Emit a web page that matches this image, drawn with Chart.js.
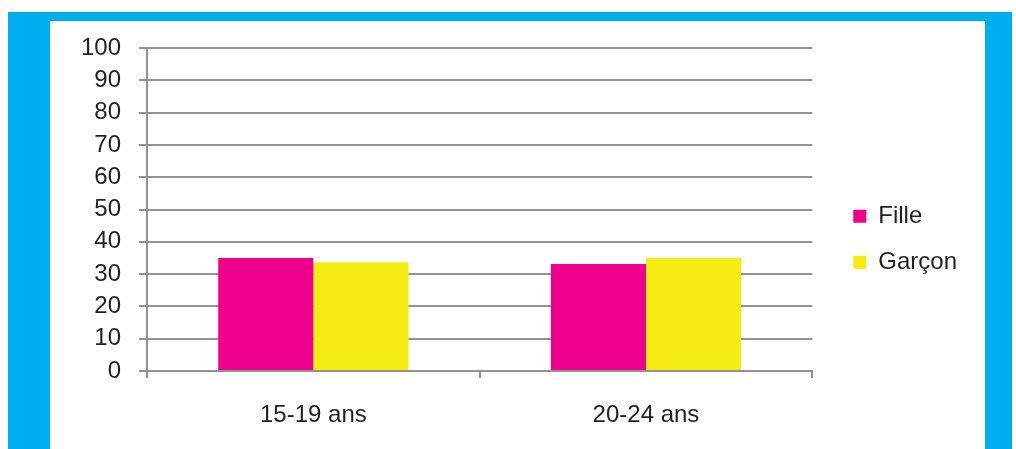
<!DOCTYPE html>
<html>
<head>
<meta charset="utf-8">
<script src="https://cdn.jsdelivr.net/npm/chart.js@4.4.1/dist/chart.umd.min.js"></script>
<style>
  html, body { margin: 0; padding: 0; background: #fff; }
  #wrap { position: relative; width: 1016px; height: 449px; }
</style>
</head>
<body>
<div id="wrap"><canvas id="ageChart" width="1016" height="449"></canvas></div>
<script>
// age groups and share per sex (%)
const categories = ['15-19 ans', '20-24 ans'];
const fille = [35, 33.1];
const garcon = [33.7, 35];
const yTicks = [0, 10, 20, 30, 40, 50, 60, 70, 80, 90, 100];

const FONT = '"Liberation Sans", Arial, sans-serif';
const GRID = '#929292';

// cyan frame around the figure
const framePlugin = {
    id: 'frame',
    beforeDraw(chart) {
        const c = chart.ctx;
        c.save();
        c.fillStyle = '#fff';
        c.fillRect(0, 0, chart.width, chart.height);
        c.fillStyle = '#00AEEF';
        c.fillRect(8, 12, 1004, 9);
        c.fillRect(8, 12, 42, chart.height - 12);
        c.fillRect(985, 12, 27, chart.height - 12);
        c.restore();
    }
};

Chart.defaults.font.family = FONT;
Chart.defaults.color = '#231F20';

new Chart(document.getElementById('ageChart'), {
    type: 'bar',
    data: {
        labels: categories,
        datasets: [
            { label: 'Fille', data: fille, backgroundColor: '#EC008C', categoryPercentage: 0.572, barPercentage: 1 },
            { label: 'Garçon', data: garcon, backgroundColor: '#F5EC14', categoryPercentage: 0.572, barPercentage: 1 }
        ]
    },
    options: {
        responsive: false,
        animation: false,
        events: [],
        layout: { padding: { left: 63, top: 48, right: 49, bottom: -3 } },
        plugins: {
            tooltip: { enabled: false },
            legend: {
                position: 'right',
                align: 'start',
                // blank title pushes the two entries down to mid height
                title: { display: true, text: ' ', font: { size: 1 }, padding: { top: 133, bottom: 0 } },
                labels: {
                    boxWidth: 13,
                    boxHeight: 13,
                    padding: 22,
                    font: { size: 24 },
                    color: '#231F20'
                }
            }
        },
        scales: {
            x: {
                grid: { display: true, drawOnChartArea: false, offset: true, color: GRID, lineWidth: 2, tickLength: 7 },
                border: { color: GRID, width: 2 },
                ticks: { font: { size: 24, lineHeight: 1 }, padding: 25, color: '#231F20' }
            },
            y: {
                min: 0,
                max: 100,
                afterBuildTicks: s => { s.ticks = yTicks.map(v => ({ value: v })); },
                grid: { color: GRID, lineWidth: 2, tickLength: 8 },
                border: { color: GRID, width: 2 },
                ticks: { font: { size: 24 }, padding: 18, color: '#231F20' }
            },
            // empty spacer between the plot and the legend
            gap: {
                position: 'right',
                display: true,
                grid: { display: false },
                border: { display: false },
                ticks: { display: false },
                afterFit: s => { s.width = 19; }
            }
        }
    },
    plugins: [framePlugin]
});
</script>
</body>
</html>
